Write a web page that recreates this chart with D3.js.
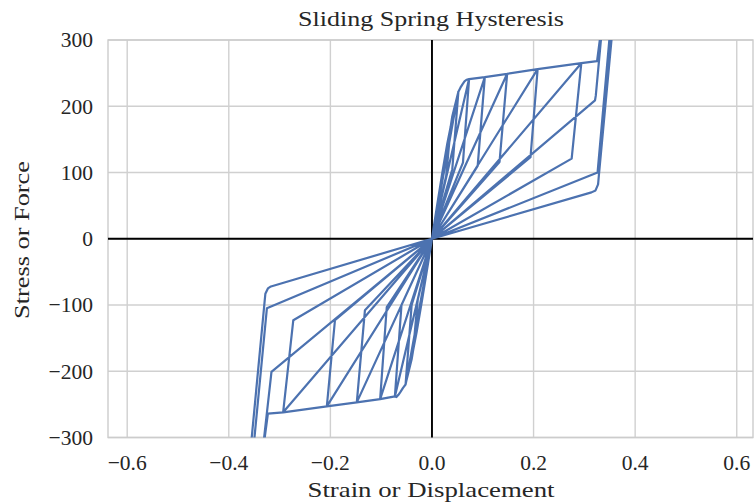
<!DOCTYPE html>
<html lang="en">
<head>
<meta charset="UTF-8">
<title>Sliding Spring Hysteresis</title>
<script src="https://d3js.org/d3.v7.min.js"></script>
<style>
    body { margin: 0; background: #fff; }
    svg text { font-family: "Liberation Serif", "Times New Roman", serif; fill: #262626; }
    .grid line { stroke: #d0d0d0; stroke-width: 1.4px; }
    .spine { fill: none; stroke: #cccccc; stroke-width: 1.4px; }
    .zero-line { stroke: #000; stroke-width: 1.9px; }
    .curve { fill: none; stroke: #4c72b0; stroke-width: 2.2px; stroke-linejoin: round; }
</style>
</head>
<body>
<script>
    // axis ticks
    const xTicks = [-0.6, -0.4, -0.2, 0, 0.2, 0.4, 0.6];
    const yTicks = [-300, -200, -100, 0, 100, 200, 300];

    // backbone before yield (positive / negative)
    const posBackX = [0.01, 0.02, 0.03, 0.04, 0.05, 0.056, 0.06, 0.064, 0.068];
    const posBackF = [50, 98, 143, 185, 216, 228, 233, 237.5, 240];
    const negBackX = [-0.01, -0.02, -0.03, -0.04, -0.05, -0.057, -0.062, -0.066, -0.07];
    const negBackF = [-48, -95, -140, -182, -213, -225, -231, -235.5, -239];

    // peaks of the small cycles and the corner where unloading turns to the origin
    const posPeakX = [0.037, 0.052, 0.073, 0.104, 0.148, 0.208, 0.294];
    const posPeakF = [170, 222, 241, 244, 249, 256, 265];
    const posUnloadX = [0.028, 0.040, 0.061, 0.090, 0.133, 0.194, 0.275];
    const posUnloadF = [95, 105, 115, 110, 116, 123, 121];

    const negPeakX = [-0.037, -0.052, -0.073, -0.102, -0.148, -0.207, -0.293];
    const negPeakF = [-168, -220, -238, -242, -247, -253, -262];
    const negUnloadX = [-0.028, -0.040, -0.060, -0.089, -0.132, -0.191, -0.273];
    const negUnloadF = [-92, -100, -100, -103, -108, -123, -123];

    // end of the sliding branch
    const posSlideEnd = [0.325, 268];
    const negSlideEnd = [-0.323, -264];

    // large cycles (peaks are above the plotted range)
    const posBigX = [0.338, 0.37, 0.385];
    const posBigF = [345, 480, 560];
    const posBigUnload = [
        [[0.3225, 216], [0.321, 209]],
        [[0.326, 100]],
        [[0.3285, 95], [0.327, 82], [0.322, 73], [0.314, 70]]
    ];
    const negBigX = [-0.337, -0.372, -0.387];
    const negBigF = [-345, -480, -560];
    const negBigUnload = [
        [[-0.317, -208], [-0.316, -201]],
        [[-0.325, -105]],
        [[-0.3295, -95], [-0.328, -83], [-0.323, -75], [-0.317, -72]]
    ];

    function smallHalf(pts, i, peakX, peakF, backX, backF, unX, unF) {
        const prev = i > 0 ? Math.abs(peakX[i - 1]) : 0;
        if (i > 0) pts.push([peakX[i - 1], peakF[i - 1]]);
        backX.forEach((x, j) => {
            if (Math.abs(x) > prev && Math.abs(x) < Math.abs(peakX[i])) pts.push([x, backF[j]]);
        });
        pts.push([peakX[i], peakF[i]]);
        pts.push([unX[i], unF[i]]);
        pts.push([0, 0]);
    }

    function bigHalf(pts, k, lastPeak, slideEnd, bigX, bigF, unload) {
        if (k === 0) {
            pts.push(lastPeak);
            pts.push(slideEnd);
        } else {
            unload[k - 1].slice().reverse().forEach(p => pts.push(p));
            pts.push([bigX[k - 1], bigF[k - 1]]);
        }
        pts.push([bigX[k], bigF[k]]);
        unload[k].forEach(p => pts.push(p));
        pts.push([0, 0]);
    }

    const history = [[0, 0]];
    posPeakX.forEach((_, i) => {
        smallHalf(history, i, posPeakX, posPeakF, posBackX, posBackF, posUnloadX, posUnloadF);
        smallHalf(history, i, negPeakX, negPeakF, negBackX, negBackF, negUnloadX, negUnloadF);
    });
    const nP = posPeakX.length - 1;
    posBigX.forEach((_, k) => {
        bigHalf(history, k, [posPeakX[nP], posPeakF[nP]], posSlideEnd, posBigX, posBigF, posBigUnload);
        bigHalf(history, k, [negPeakX[nP], negPeakF[nP]], negSlideEnd, negBigX, negBigF, negBigUnload);
    });

    const W = 754, H = 504;
    const plot = {left: 108, right: 753, top: 40, bottom: 437.5};

    const x = d3.scaleLinear().domain([-0.6378, 0.632]).range([plot.left, plot.right]);
    const y = d3.scaleLinear().domain([-300, 300]).range([plot.bottom, plot.top]);

    const svg = d3.select("body").append("svg")
        .attr("width", W)
        .attr("height", H);

    svg.append("defs").append("clipPath").attr("id", "plot-clip")
        .append("rect")
        .attr("x", plot.left).attr("y", plot.top)
        .attr("width", plot.right - plot.left).attr("height", plot.bottom - plot.top);

    // grid
    const grid = svg.append("g").attr("class", "grid");
    grid.selectAll(".gx").data(xTicks).join("line")
        .attr("class", "gx")
        .attr("x1", d => x(d)).attr("x2", d => x(d))
        .attr("y1", plot.top).attr("y2", plot.bottom);
    grid.selectAll(".gy").data(yTicks).join("line")
        .attr("class", "gy")
        .attr("x1", plot.left).attr("x2", plot.right)
        .attr("y1", d => y(d)).attr("y2", d => y(d));

    svg.append("rect").attr("class", "spine")
        .attr("x", plot.left).attr("y", plot.top)
        .attr("width", plot.right - plot.left).attr("height", plot.bottom - plot.top);

    const minus = s => s.replace("-", "\u2212");

    // x tick labels
    svg.append("g").selectAll("text").data(xTicks).join("text")
        .attr("x", d => x(d))
        .attr("y", 470)
        .attr("text-anchor", "middle")
        .style("font-size", "21.5px")
        .text(d => minus(d3.format(".1f")(d)));

    // y tick labels
    svg.append("g").selectAll("text").data(yTicks).join("text")
        .attr("x", 93)
        .attr("y", d => y(d))
        .attr("dy", "0.34em")
        .attr("text-anchor", "end")
        .style("font-size", "21.5px")
        .text(d => minus(String(d)));

    // zero lines
    svg.append("line").attr("class", "zero-line")
        .attr("x1", plot.left).attr("x2", plot.right)
        .attr("y1", y(0)).attr("y2", y(0));
    svg.append("line").attr("class", "zero-line")
        .attr("x1", x(0)).attr("x2", x(0))
        .attr("y1", plot.top).attr("y2", plot.bottom);

    // hysteresis curve
    const line = d3.line().x(d => x(d[0])).y(d => y(d[1]));
    svg.append("path")
        .attr("class", "curve")
        .attr("clip-path", "url(#plot-clip)")
        .attr("d", line(history));

    // titles
    svg.append("text")
        .attr("x", 431).attr("y", 26)
        .attr("text-anchor", "middle")
        .attr("textLength", 266)
        .attr("lengthAdjust", "spacingAndGlyphs")
        .style("font-size", "22px")
        .text("Sliding Spring Hysteresis");

    svg.append("text")
        .attr("x", 431).attr("y", 497)
        .attr("text-anchor", "middle")
        .attr("textLength", 247)
        .attr("lengthAdjust", "spacingAndGlyphs")
        .style("font-size", "22px")
        .text("Strain or Displacement");

    svg.append("text")
        .attr("transform", "translate(29,240) rotate(-90)")
        .attr("text-anchor", "middle")
        .attr("textLength", 158)
        .attr("lengthAdjust", "spacingAndGlyphs")
        .style("font-size", "22px")
        .text("Stress or Force");
</script>
</body>
</html>
